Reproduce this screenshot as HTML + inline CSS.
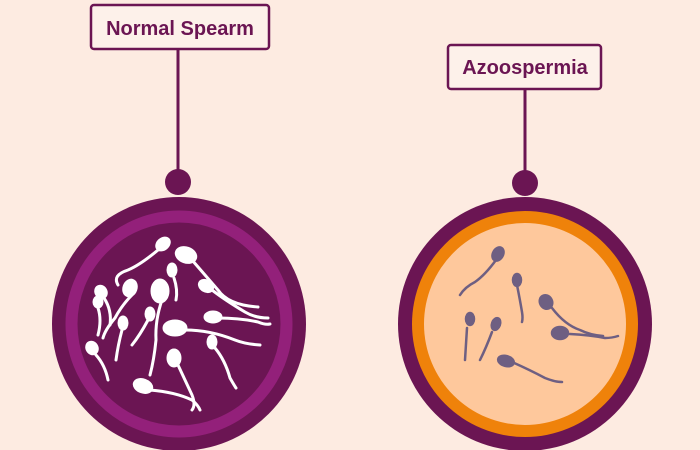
<!DOCTYPE html>
<html><head><style>
html,body{margin:0;padding:0;background:#fdebe1;}
svg{display:block}
</style></head><body>
<svg width="700" height="450" viewBox="0 0 700 450" xmlns="http://www.w3.org/2000/svg">
<rect width="700" height="450" fill="#fdebe1"/>
<!-- left -->
<rect x="91" y="5" width="178" height="44" rx="3" fill="#fdf1ea" stroke="#6b1553" stroke-width="2.5"/>
<text x="180" y="35" text-anchor="middle" font-family="Liberation Sans, sans-serif" font-weight="bold" font-size="20" fill="#6b1553">Normal Spearm</text>
<line x1="178" y1="49" x2="178" y2="175" stroke="#6b1553" stroke-width="3"/>
<circle cx="178" cy="182" r="13" fill="#6b1553"/>
<circle cx="179" cy="324" r="127" fill="#6b1553"/>
<circle cx="179" cy="324" r="107.5" fill="none" stroke="#93207a" stroke-width="12"/>
<g fill="#fff" stroke="#fff" stroke-width="3" stroke-linecap="round">
<g fill="none">
<path d="M158 250 Q140 265 128 270 Q112 275 118 285"/>
<path d="M192 260 Q205 275 218 290 Q228 305 258 307"/>
<path d="M174 278 Q178 290 176 300"/>
<path d="M162 300 Q155 320 156 340 Q154 360 150 375"/>
<path d="M132 295 Q122 305 115 318 Q105 330 103 338"/>
<path d="M104 298 Q112 310 110 325"/>
<path d="M98 308 Q102 320 98 335"/>
<path d="M212 290 Q225 300 245 312 Q255 318 268 318"/>
<path d="M218 318 Q240 318 258 322 Q265 325 270 324"/>
<path d="M185 330 Q210 330 235 340 Q245 344 260 345"/>
<path d="M148 320 Q140 335 132 345"/>
<path d="M122 330 Q118 345 116 360"/>
<path d="M96 355 Q105 365 108 380"/>
<path d="M178 365 Q185 380 192 395 Q196 405 192 410"/>
<path d="M215 348 Q225 360 230 378 Q234 385 236 388"/>
<path d="M150 390 Q175 392 192 400 Q198 405 200 410"/>
</g>
<ellipse cx="163" cy="244" rx="7" ry="5" transform="rotate(-40 163 244)"/>
<ellipse cx="186" cy="255" rx="10" ry="7" transform="rotate(20 186 255)"/>
<ellipse cx="172" cy="270" rx="4" ry="6"/>
<ellipse cx="160" cy="291" rx="8" ry="11"/>
<ellipse cx="130" cy="288" rx="6" ry="8" transform="rotate(20 130 288)"/>
<ellipse cx="101" cy="292" rx="5" ry="6" transform="rotate(-30 101 292)"/>
<ellipse cx="98" cy="302" rx="4" ry="5"/>
<ellipse cx="206" cy="286" rx="7" ry="5" transform="rotate(30 206 286)"/>
<ellipse cx="213" cy="317" rx="8" ry="5"/>
<ellipse cx="175" cy="328" rx="11" ry="7"/>
<ellipse cx="150" cy="314" rx="4" ry="6"/>
<ellipse cx="123" cy="323" rx="4" ry="6"/>
<ellipse cx="92" cy="348" rx="5" ry="6" transform="rotate(-30 92 348)"/>
<ellipse cx="174" cy="358" rx="6" ry="8"/>
<ellipse cx="212" cy="342" rx="4" ry="6"/>
<ellipse cx="143" cy="386" rx="9" ry="6" transform="rotate(20 143 386)"/>
</g>
<!-- right -->
<rect x="448" y="45" width="153" height="44" rx="3" fill="#fdf1ea" stroke="#6b1553" stroke-width="2.5"/>
<text x="525" y="74" text-anchor="middle" font-family="Liberation Sans, sans-serif" font-weight="bold" font-size="20" fill="#6b1553">Azoospermia</text>
<line x1="525" y1="89" x2="525" y2="175" stroke="#6b1553" stroke-width="3"/>
<circle cx="525" cy="183" r="13" fill="#6b1553"/>
<circle cx="525" cy="324" r="127" fill="#6b1553"/>
<circle cx="525" cy="324" r="113" fill="#ef820a"/>
<circle cx="525" cy="324" r="101" fill="#fec89c"/>
<g fill="#6e5f82" stroke="#6e5f82" stroke-width="2.5" stroke-linecap="round">
<g fill="none">
<path d="M496 260 Q485 275 475 282 Q465 287 460 295"/>
<path d="M517 285 Q520 300 522 312 Q523 318 522 322"/>
<path d="M467 328 Q466 345 465 360"/>
<path d="M492 332 Q486 348 480 360"/>
<path d="M552 308 Q565 325 580 330 Q590 335 603 336"/>
<path d="M570 334 Q590 335 605 338 Q612 338 618 336"/>
<path d="M512 362 Q530 370 545 378 Q555 382 562 382"/>
</g>
<ellipse cx="498" cy="254" rx="5" ry="7" transform="rotate(30 498 254)"/>
<ellipse cx="517" cy="280" rx="4" ry="6"/>
<ellipse cx="470" cy="319" rx="4" ry="6"/>
<ellipse cx="496" cy="324" rx="4" ry="6" transform="rotate(20 496 324)"/>
<ellipse cx="546" cy="302" rx="6" ry="7" transform="rotate(-30 546 302)"/>
<ellipse cx="560" cy="333" rx="8" ry="6"/>
<ellipse cx="506" cy="361" rx="8" ry="5" transform="rotate(15 506 361)"/>
</g>
</svg>
</body></html>
